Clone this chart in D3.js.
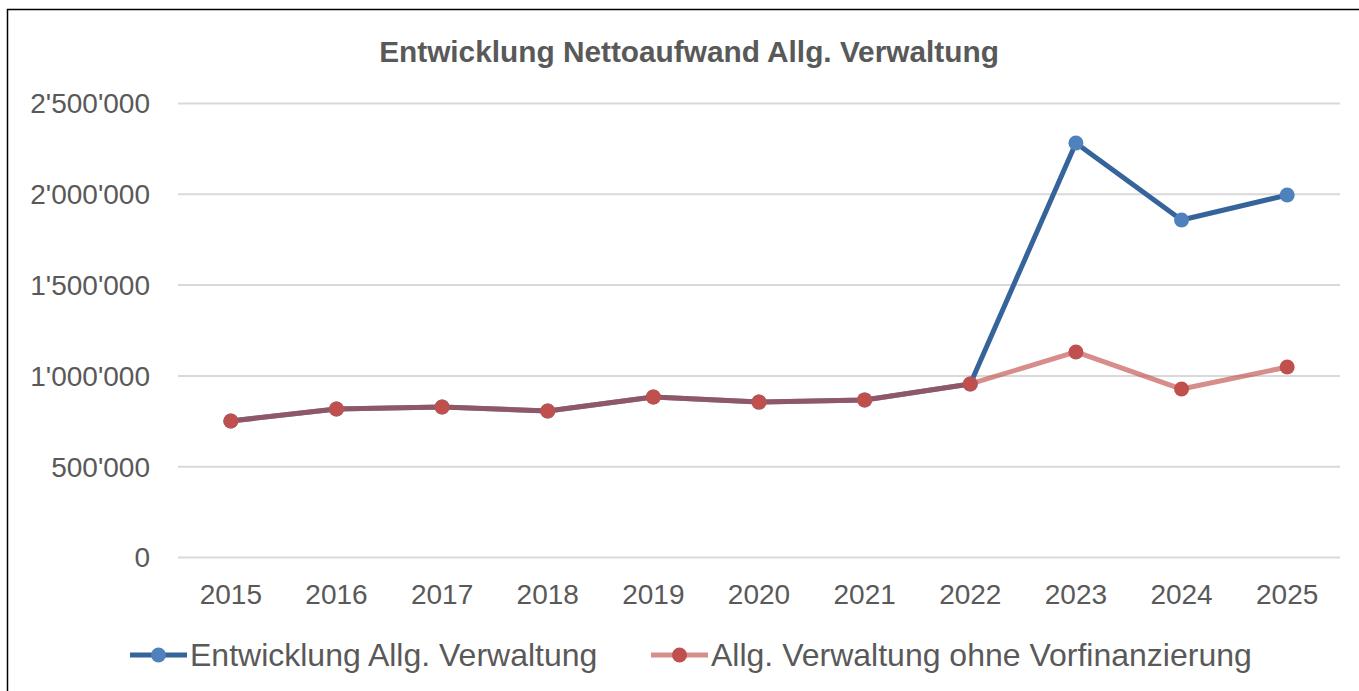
<!DOCTYPE html>
<html><head><meta charset="utf-8">
<script src="https://cdn.jsdelivr.net/npm/d3@7"></script>
<style>
html,body{margin:0;padding:0;background:#fff;overflow:hidden}
svg{display:block}
</style></head>
<body>
<svg id="chart" width="1359" height="691"></svg>
<script>
const title = "Entwicklung Nettoaufwand Allg. Verwaltung";
const years = ["2015","2016","2017","2018","2019","2020","2021","2022","2023","2024","2025"];
const seriesNames = ["Entwicklung Allg. Verwaltung","Allg. Verwaltung ohne Vorfinanzierung"];
const totalValues = [749000,815000,826000,804000,881000,853000,865000,953000,2280000,1856000,1993000];
const withoutPrefinValues = [749000,815000,826000,804000,881000,853000,865000,953000,1129000,925000,1046000];
const yTicks = [0,500000,1000000,1500000,2000000,2500000];

const svg = d3.select("#chart");
const W = 1359, H = 691;
const plot = {left:178, right:1340, top:103, bottom:557};
const textColor = "#595959";
const font = "'Liberation Sans',Arial,sans-serif";

// outer border
svg.append("rect").attr("x",7.5).attr("y",9.5).attr("width",W+10).attr("height",H+10)
  .attr("fill","#fff").attr("stroke","#000").attr("stroke-width",1.5);

const x = d3.scaleBand().domain(years).range([plot.left, plot.right]).padding(0);
const y = d3.scaleLinear().domain([0,2500000]).range([plot.bottom, plot.top]);
const fmt = v => d3.format(",")(v).replace(/,/g,"'");

// gridlines
const grid = svg.append("g").attr("transform",`translate(${plot.left},0)`)
  .call(d3.axisLeft(y).tickValues(yTicks).tickSize(-(plot.right-plot.left)).tickFormat(""));
grid.select(".domain").remove();
grid.selectAll("line").attr("stroke","#d9d9d9").attr("stroke-width",2);

// y labels
const yAx = svg.append("g").attr("transform",`translate(150,0)`)
  .call(d3.axisLeft(y).tickValues(yTicks).tickSize(0).tickPadding(0).tickFormat(fmt));
yAx.select(".domain").remove();
yAx.selectAll("text").attr("fill",textColor)
  .style("font-family",font).style("font-size","28px").attr("dy","0.35em");

// x labels
const xAx = svg.append("g").attr("transform",`translate(0,${plot.bottom})`)
  .call(d3.axisBottom(x).tickSize(0).tickPadding(27));
xAx.select(".domain").remove();
xAx.selectAll("text").attr("fill",textColor)
  .style("font-family",font).style("font-size","28px");

// title
svg.append("text").attr("x",689).attr("y",62).attr("text-anchor","middle")
  .attr("fill",textColor).style("font-family",font)
  .style("font-weight","bold").style("font-size","29.8px").text(title);

const cx = d => x(d) + x.bandwidth()/2;
const line = d3.line().x((d,i)=>cx(years[i])).y(d=>y(d));

const blueLine = "#35649a", blueMarker = "#4f81bd", red = "#c0504d";

svg.append("path").datum(totalValues).attr("d",line).attr("fill","none")
  .attr("stroke",blueLine).attr("stroke-width",5).attr("stroke-linejoin","round");
svg.append("g").selectAll("circle").data(totalValues).join("circle")
  .attr("cx",(d,i)=>cx(years[i])).attr("cy",d=>y(d)).attr("r",7.5).attr("fill",blueMarker);

svg.append("path").datum(withoutPrefinValues).attr("d",line).attr("fill","none")
  .attr("stroke",red).attr("stroke-opacity",0.65).attr("stroke-width",5).attr("stroke-linejoin","round");
svg.append("g").selectAll("circle").data(withoutPrefinValues).join("circle")
  .attr("cx",(d,i)=>cx(years[i])).attr("cy",d=>y(d)).attr("r",7.5).attr("fill",red);

// legend
const legend = [
  {name:seriesNames[0], x0:130, stroke:blueLine, op:1, marker:blueMarker},
  {name:seriesNames[1], x0:651, stroke:red, op:0.65, marker:red}
];
const ly = 655;
legend.forEach(l=>{
  svg.append("line").attr("x1",l.x0).attr("x2",l.x0+57).attr("y1",ly).attr("y2",ly)
    .attr("stroke",l.stroke).attr("stroke-opacity",l.op).attr("stroke-width",5);
  svg.append("circle").attr("cx",l.x0+28.5).attr("cy",ly).attr("r",7.5).attr("fill",l.marker);
  svg.append("text").attr("x",l.x0+60).attr("y",ly).attr("dy","0.35em").attr("fill",textColor)
    .style("font-family",font).style("font-size","32px").text(l.name);
});
</script>
</body></html>
